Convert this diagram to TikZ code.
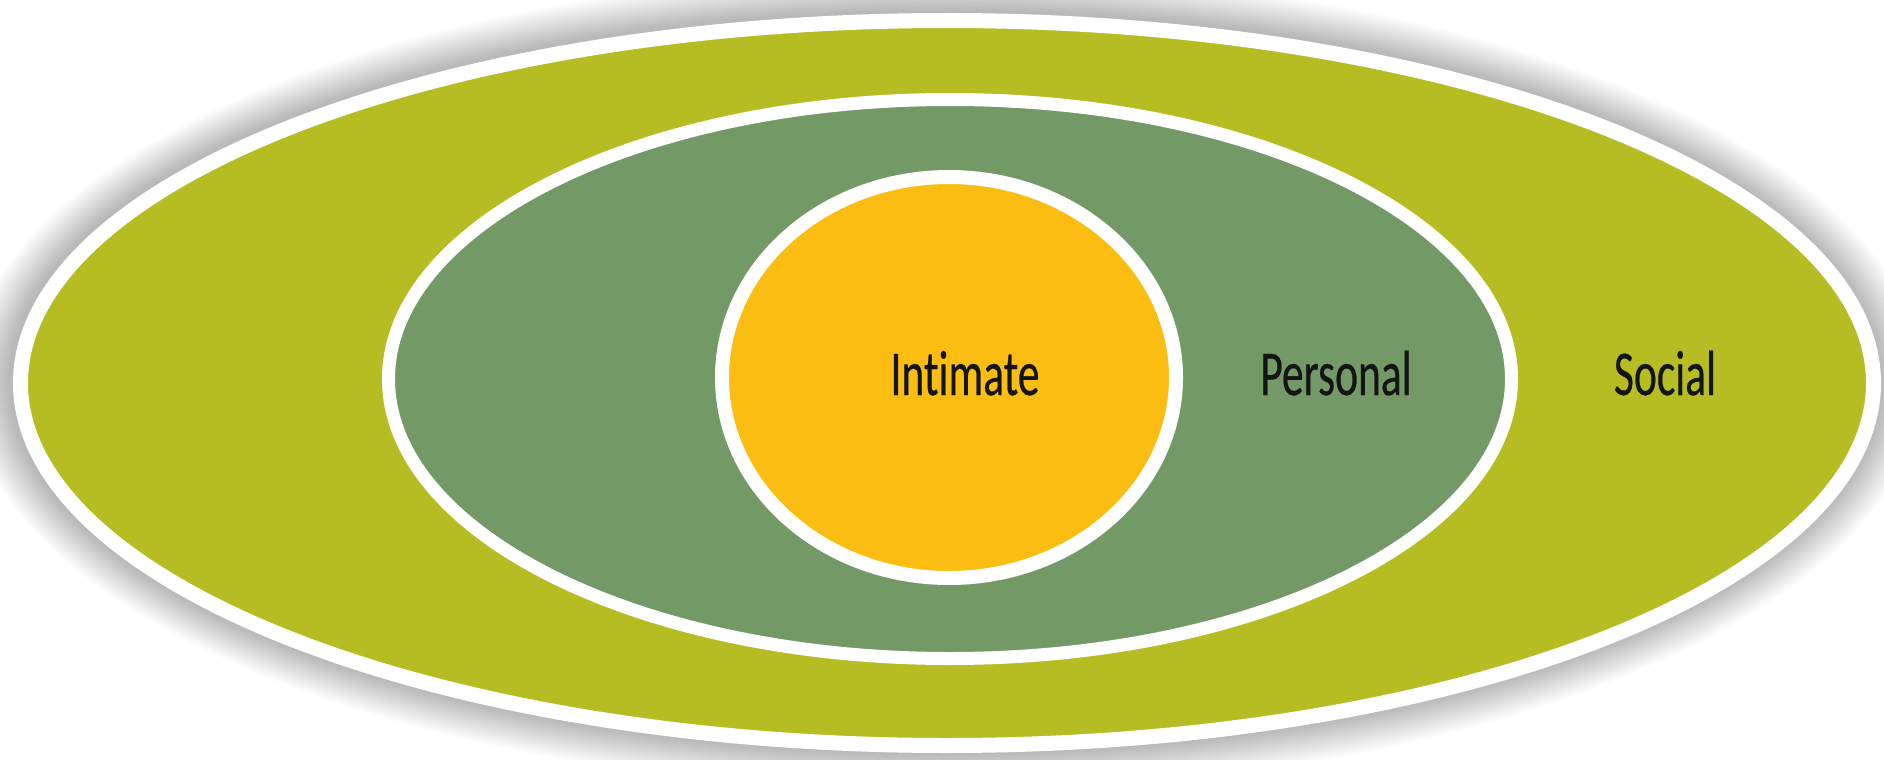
\documentclass[tikz,border=0pt]{standalone}
\usepackage{fontspec}
\setmainfont{Carlito}[RawFeature={-liga,-clig,-dlig}, FakeBold=0.5]
\definecolor{socialc}{RGB}{181,189,34}
\definecolor{personalc}{RGB}{115,153,102}
\definecolor{intimatec}{RGB}{251,189,18}
\definecolor{textc}{RGB}{20,20,20}
\tikzset{
  ring/.style={draw=white},
  lbl/.style={anchor=base, text=textc, inner sep=0pt, font=\fontsize{64}{70}\selectfont},
}
\newcommand{\squeeze}[1]{\scalebox{0.68}[1]{#1}}
\begin{document}
\begin{tikzpicture}[x=1pt,y=-1pt]
\useasboundingbox (0,0) rectangle (1884,760);
\fill[white] (0,0) rectangle (1884,760);
% soft shadow round the outer ellipse
\foreach \i in {1,...,18}{
  \fill[black, opacity=0.014] (945,382) ellipse [x radius={934pt+\i*2.4pt}, y radius={370pt+\i*2.2pt}];
}
% social
\path[ring, fill=socialc, line width=15pt] (947,383) ellipse [x radius=926.5pt, y radius=362.5pt];
% personal
\path[ring, fill=personalc, line width=13pt] (950,379) ellipse [x radius=561.5pt, y radius=279.5pt];
% intimate
\path[ring, fill=intimatec, line width=14pt] (949,377.5) ellipse [x radius=227pt, y radius=200.5pt];
\node[lbl] (intimate) at (965,395) {\squeeze{Intimate}};
\node[lbl] (personal) at (1336,395) {\squeeze{Personal}};
\node[lbl] (social) at (1665,395) {\squeeze{Social}};
\end{tikzpicture}
\end{document}
